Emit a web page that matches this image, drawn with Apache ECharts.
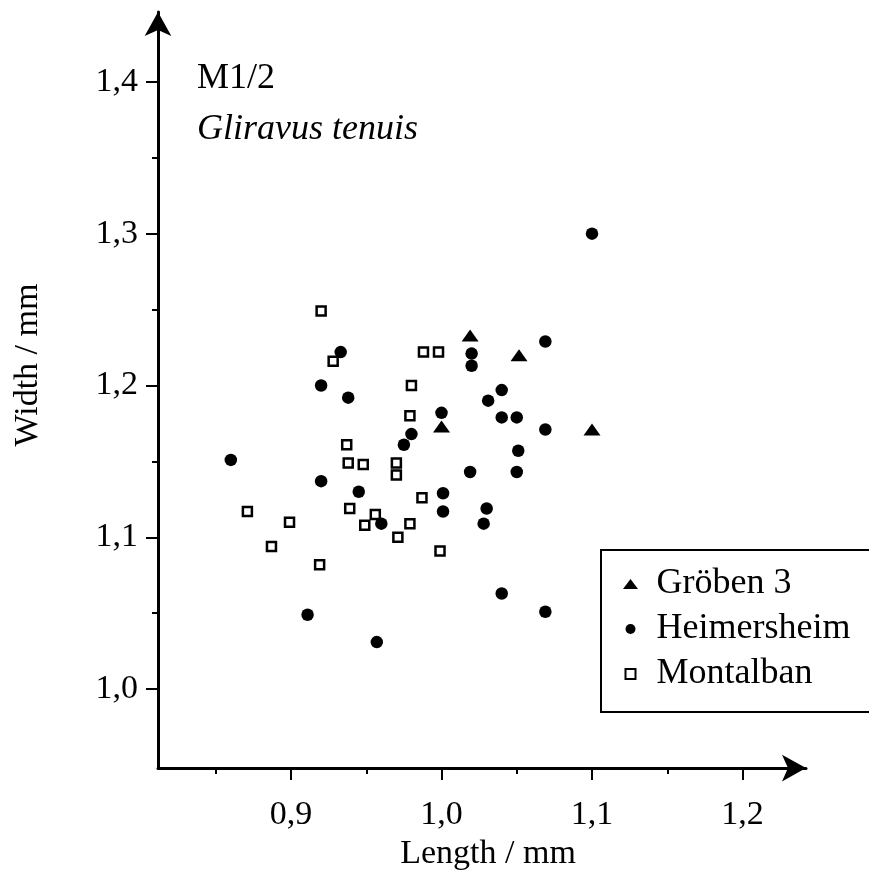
<!DOCTYPE html>
<html>
<head>
<meta charset="utf-8">
<script src="https://cdn.jsdelivr.net/npm/echarts@6/dist/echarts.min.js"></script>
<style>html,body{margin:0;padding:0;background:#fff}#c{width:869px;height:876px}</style>
</head>
<body>
<div id="c"></div>
<script>
// ---- data ----
const seriesNames = ['Gröben 3', 'Heimersheim', 'Montalban'];

const grobenLength = [1.000, 1.019, 1.0515, 1.100];
const grobenWidth  = [1.173, 1.233, 1.220, 1.171];

const heimLength = [0.933, 0.920, 0.938, 1.000, 0.980, 0.975, 1.100, 1.069, 1.020, 1.020,
                    1.040, 1.031, 1.040, 1.050, 1.069, 1.051, 1.019, 1.050, 1.001, 1.001,
                    1.030, 1.028, 0.920, 0.860, 0.945, 0.960, 0.911, 0.957, 1.040, 1.069];
const heimWidth  = [1.222, 1.200, 1.192, 1.182, 1.168, 1.161, 1.300, 1.229, 1.221, 1.213,
                    1.197, 1.190, 1.179, 1.179, 1.171, 1.157, 1.143, 1.143, 1.129, 1.117,
                    1.119, 1.109, 1.137, 1.151, 1.130, 1.109, 1.049, 1.031, 1.063, 1.051];

const montLength = [0.920, 0.928, 0.988, 0.998, 0.980, 0.979, 0.937, 0.938, 0.948, 0.970,
                    0.970, 0.871, 0.899, 0.887, 0.919, 0.939, 0.956, 0.949, 0.979, 0.971,
                    0.987, 0.999];
const montWidth  = [1.249, 1.216, 1.222, 1.222, 1.200, 1.180, 1.161, 1.149, 1.148, 1.149,
                    1.141, 1.117, 1.110, 1.094, 1.082, 1.119, 1.115, 1.108, 1.109, 1.100,
                    1.126, 1.091];

const xMajorTicks = [0.9, 1.0, 1.1, 1.2];
const xMinorTicks = [0.85, 0.95, 1.05, 1.15];
const yMajorTicks = [1.0, 1.1, 1.2, 1.3, 1.4];
const yMinorTicks = [1.05, 1.15, 1.25, 1.35];

const titleLine1 = 'M1/2';
const titleLine2 = 'Gliravus tenuis';
const xName = 'Length / mm';
const yName = 'Width / mm';

// ---- chart ----
const pairs = (a, b) => a.map((v, i) => [v, b[i]]);
const FONT = '"Liberation Serif", "Times New Roman", serif';
const X_MIN = 0.8116, X_MAX = 1.2422, Y_MIN = 0.948, Y_MAX = 1.446;
const fmt = v => Number(v).toFixed(1).replace('.', ',');

const chart = echarts.init(document.getElementById('c'), null, {renderer: 'canvas'});
chart.setOption({
  backgroundColor: '#fff',
  animation: false,
  title: [
    {text: titleLine1, left: 192, top: 56,
     textStyle: {fontFamily: FONT, fontSize: 36, fontWeight: 'normal', color: '#000'}},
    {text: titleLine2, left: 192, top: 107,
     textStyle: {fontFamily: FONT, fontSize: 36, fontWeight: 'normal', fontStyle: 'italic', color: '#000'}}
  ],
  grid: {left: 158, right: 63, top: 12, bottom: 107, containLabel: false},
  legend: {
    data: [
      {name: seriesNames[0], icon: 'path://M0,10L7.5,0L15,10Z'},
      {name: seriesNames[1], icon: 'circle'},
      {name: seriesNames[2], icon: 'path://M0,0H10V10H0Z'}
    ],
    orient: 'vertical', left: 601, top: 550,
    itemWidth: 16, itemHeight: 10, itemGap: 9,
    padding: [16, 60, 20, 22],
    borderColor: '#000', borderWidth: 2, backgroundColor: '#fff',
    selectedMode: false,
    textStyle: {fontFamily: FONT, fontSize: 36, color: '#000', padding: [0, 0, 0, 13]}
  },
  xAxis: [
    {type: 'value', position: 'bottom', min: X_MIN, max: X_MAX,
     name: xName, nameLocation: 'middle', nameGap: 37,
     nameTextStyle: {fontFamily: FONT, fontSize: 34, color: '#000', padding: [0, 0, 0, 12]},
     axisLine: {show: true, onZero: false, symbol: ['none', 'arrow'], symbolSize: [20, 24],
                lineStyle: {color: '#000', width: 3}},
     axisTick: {show: true, customValues: xMajorTicks, length: 12, lineStyle: {color: '#000', width: 2}},
     axisLabel: {show: true, customValues: xMajorTicks, formatter: fmt, margin: 30,
                 fontFamily: FONT, fontSize: 34, color: '#000'},
     splitLine: {show: false}},
    {type: 'value', position: 'bottom', min: X_MIN, max: X_MAX,
     axisLine: {show: false, onZero: false},
     axisTick: {show: true, customValues: xMinorTicks, length: 6, lineStyle: {color: '#000', width: 2}},
     axisLabel: {show: false}, splitLine: {show: false}}
  ],
  yAxis: [
    {type: 'value', position: 'left', min: Y_MIN, max: Y_MAX,
     name: yName, nameLocation: 'middle', nameGap: 113,
     nameTextStyle: {fontFamily: FONT, fontSize: 34, color: '#000', padding: [0, 0, 0, 50]},
     axisLine: {show: true, onZero: false, symbol: ['none', 'arrow'], symbolSize: [20, 24],
                lineStyle: {color: '#000', width: 3}},
     axisTick: {show: true, customValues: yMajorTicks, length: 12, lineStyle: {color: '#000', width: 2}},
     axisLabel: {show: true, customValues: yMajorTicks, formatter: fmt, margin: 20,
                 fontFamily: FONT, fontSize: 34, color: '#000'},
     splitLine: {show: false}},
    {type: 'value', position: 'left', min: Y_MIN, max: Y_MAX,
     axisLine: {show: false, onZero: false},
     axisTick: {show: true, customValues: yMinorTicks, length: 6, lineStyle: {color: '#000', width: 2}},
     axisLabel: {show: false}, splitLine: {show: false}}
  ],
  series: [
    {name: seriesNames[0], type: 'scatter', xAxisIndex: 0, yAxisIndex: 0, z: 4,
     symbol: 'triangle', symbolSize: [17, 12],
     itemStyle: {color: '#000', opacity: 1}, data: pairs(grobenLength, grobenWidth)},
    {name: seriesNames[1], type: 'scatter', xAxisIndex: 0, yAxisIndex: 0, z: 3,
     symbol: 'circle', symbolSize: 12.5,
     itemStyle: {color: '#000', opacity: 1}, data: pairs(heimLength, heimWidth)},
    {name: seriesNames[2], type: 'scatter', xAxisIndex: 0, yAxisIndex: 0, z: 2,
     symbol: 'rect', symbolSize: 9,
     itemStyle: {color: '#fff', borderColor: '#000', borderWidth: 2.5, opacity: 1},
     data: pairs(montLength, montWidth)}
  ]
});
</script>
</body>
</html>
